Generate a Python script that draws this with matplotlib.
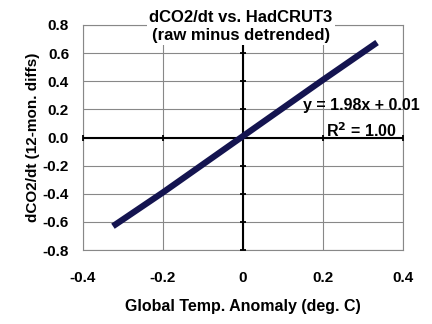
import matplotlib
matplotlib.use("Agg")
import matplotlib.pyplot as plt

plt.rcParams['font.family'] = ['Liberation Sans', 'DejaVu Sans']
plt.rcParams['font.weight'] = 'bold'
plt.rcParams['axes.labelweight'] = 'bold'

# values
temp_anom = [-0.325, -0.2, -0.1, 0.0, 0.1, 0.2, 0.335]
dco2_dt = [-0.63, -0.39, -0.19, 0.01, 0.21, 0.41, 0.675]
x_ticks = [-0.4, -0.2, 0.0, 0.2, 0.4]
x_tick_labels = ["-0.4", "-0.2", "0", "0.2", "0.4"]
y_ticks = [-0.8, -0.6, -0.4, -0.2, 0.0, 0.2, 0.4, 0.6, 0.8]
y_tick_labels = ["-0.8", "-0.6", "-0.4", "-0.2", "0.0", "0.2", "0.4", "0.6", "0.8"]
title_lines = ["dCO2/dt vs. HadCRUT3", "(raw minus detrended)"]
fit_text = "y = 1.98x + 0.01"
r2_text = "R$^2$ = 1.00"

fig = plt.figure(figsize=(4.32, 3.24), dpi=100)
ax = fig.add_axes([0.192, 0.228, 0.741, 0.695])

ax.set_xlim(-0.4, 0.4)
ax.set_ylim(-0.8, 0.8)
ax.set_xticks(x_ticks)
ax.set_yticks(y_ticks)
ax.set_xticklabels(x_tick_labels)
ax.set_yticklabels(y_tick_labels)
ax.tick_params(axis='x', length=0, labelsize=11, pad=15)
ax.tick_params(axis='y', length=0, labelsize=11, pad=10)
ax.grid(True, color='#888888', linewidth=0.8)
for s in ax.spines.values():
    s.set_color('#888888')
    s.set_linewidth(0.8)

# axes through the origin, with cross ticks
ax.axhline(0, color='black', linewidth=1.5, zorder=3)
ax.axvline(0, color='black', linewidth=1.5, zorder=3)
ax.plot([0] * len(y_ticks), y_ticks, linestyle='none', marker='_',
        markersize=5, color='black', mew=1.3, zorder=3, clip_on=False)
ax.plot(x_ticks, [0] * len(x_ticks), linestyle='none', marker='|',
        markersize=5, color='black', mew=1.3, zorder=3, clip_on=False)

ax.plot(temp_anom, dco2_dt, color='#141450', linewidth=4.5,
        solid_capstyle='butt', zorder=4)

ax.text(-0.005, 0.79, "\n".join(title_lines), fontsize=12, ha='center',
        va='center', linespacing=1.2, zorder=5,
        bbox=dict(facecolor='white', edgecolor='none', pad=2))
ax.text(0.4425, 0.228, fit_text, fontsize=11.5, ha='right', va='center',
        zorder=5, clip_on=False)
ax.text(0.385, 0.05, r2_text, fontsize=11.5, ha='right', va='center',
        zorder=5)

ax.set_xlabel("Global Temp. Anomaly (deg. C)", fontsize=11.5, labelpad=10)
ax.set_ylabel("dCO2/dt (12-mon. diffs)", fontsize=11, labelpad=2)

fig.savefig("out.png", dpi=100)
